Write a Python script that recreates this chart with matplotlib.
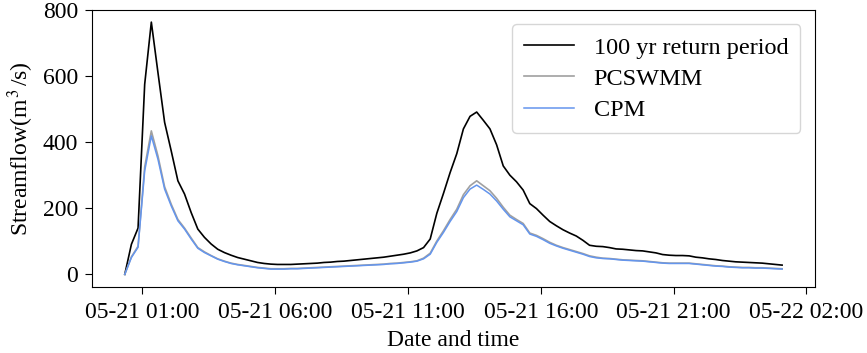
import matplotlib
matplotlib.use("Agg")
import matplotlib.pyplot as plt
import matplotlib.dates as mdates
import pandas as pd
import numpy as np

plt.rcParams['font.family'] = ['Liberation Serif', 'DejaVu Serif']
plt.rcParams['mathtext.fontset'] = 'stix'

# Time axis: 15-minute steps from 05-21 00:20 to 05-22 01:05
start_time = "2021-05-21 00:20"
n_points = 100
step = "15min"

return_100yr = [0, 91, 140, 575, 763, 610, 460, 373, 283, 243,
                187, 137, 112, 92, 76, 66, 58, 51, 46, 41,
                36, 33, 31, 30, 30, 30, 31, 32, 33, 34,
                36, 37, 39, 40, 42, 44, 46, 48, 50, 52,
                55, 58, 61, 65, 71, 81, 107, 185, 245, 308,
                365, 440, 478, 491, 466, 440, 392, 328, 300, 280,
                255, 214, 199, 179, 160, 147, 135, 125, 116, 103,
                88, 85, 84, 81, 77, 76, 74, 72, 71, 68,
                65, 60, 58, 57, 57, 56, 52, 50, 47, 45,
                42, 40, 38, 37, 36, 35, 34, 32, 30, 28]

pcswmm = [0, 53, 85, 325, 434, 358, 265, 212, 166, 140,
          110, 81, 68, 57, 47, 40, 34, 30, 27, 24,
          21, 19, 17, 17, 17, 18, 18, 19, 20, 21,
          22, 23, 24, 25, 26, 27, 28, 29, 30, 31,
          33, 34, 36, 38, 41, 49, 64, 101, 132, 166,
          197, 241, 268, 283, 268, 253, 230, 203, 179, 166,
          154, 125, 118, 108, 97, 88, 81, 75, 69, 63,
          56, 52, 49, 48, 46, 44, 43, 42, 41, 39,
          37, 35, 34, 34, 34, 34, 32, 30, 28, 26,
          25, 23, 22, 21, 21, 20, 20, 19, 18, 17]

cpm = [0, 51, 82, 313, 419, 348, 258, 207, 162, 137,
       107, 79, 66, 56, 46, 39, 33, 29, 26, 23,
       20, 18, 16, 16, 16, 17, 17, 18, 19, 20,
       21, 22, 23, 24, 25, 26, 27, 28, 29, 30,
       32, 33, 35, 37, 40, 47, 61, 97, 127, 160,
       190, 232, 258, 270, 257, 243, 222, 197, 174, 162,
       150, 122, 115, 105, 94, 86, 79, 73, 67, 61,
       54, 50, 48, 47, 45, 43, 42, 41, 40, 38,
       36, 34, 33, 33, 33, 33, 31, 29, 27, 25,
       24, 22, 21, 20, 20, 19, 19, 18, 17, 16]

tick_times = ["2021-05-21 01:00", "2021-05-21 06:00", "2021-05-21 11:00",
              "2021-05-21 16:00", "2021-05-21 21:00", "2021-05-22 02:00"]
y_ticks = [0, 200, 400, 600, 800]

times = pd.date_range(start_time, periods=n_points, freq=step)

fig = plt.figure(figsize=(8.67, 3.53), dpi=100)
ax = fig.add_axes([0.106, 0.187, 0.834, 0.785])

ax.plot(times, return_100yr, color='black', lw=1.2, label='100 yr return period')
ax.plot(times, pcswmm, color='#a0a0a0', lw=1.2, label='PCSWMM')
ax.plot(times, cpm, color='#6495ed', lw=1.1, label='CPM')

ax.set_ylim(top=800)
ax.set_yticks(y_ticks)
ax.set_xticks(pd.to_datetime(tick_times))
ax.xaxis.set_major_formatter(mdates.DateFormatter('%m-%d %H:%M'))
ax.tick_params(labelsize=17, length=5)
ax.tick_params(axis='x', pad=6)
ax.tick_params(axis='y', pad=5)

ax.set_xlabel('Date and time', fontsize=17, labelpad=5)
ax.set_ylabel('Streamflow(m$^{\\,3\\,}$/s)', fontsize=17, labelpad=5)

leg = ax.legend(loc='upper right', fontsize=17.5, frameon=True, fancybox=True,
                handlelength=2.05, handletextpad=0.8, borderpad=0.5,
                labelspacing=0.38, borderaxespad=0.6)
leg.get_frame().set_edgecolor('#cccccc')

fig.savefig('out.png', dpi=100)
